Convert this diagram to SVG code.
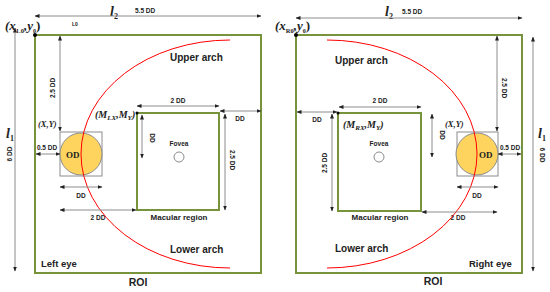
<svg xmlns="http://www.w3.org/2000/svg" width="550" height="292" viewBox="0 0 550 292">
<defs>
<marker id="ah" viewBox="0 0 10 10" refX="9" refY="5" markerWidth="5" markerHeight="5" orient="auto-start-reverse" markerUnits="userSpaceOnUse">
<path d="M0,1 L10,5 L0,9 z" fill="#222"/>
</marker>
<style>
.roi{fill:none;stroke:#77933C;stroke-width:2}
.mac{fill:none;stroke:#77933C;stroke-width:2}
.arc{fill:none;stroke:#FF0000;stroke-width:1}
.dim{fill:none;stroke:#8C8C8C;stroke-width:1;marker-start:url(#ah);marker-end:url(#ah)}
.box{fill:none;stroke:#8C8C8C;stroke-width:1}
.od{fill:#FFD45E;stroke:#8C8C8C;stroke-width:1}
.fov{fill:#fff;stroke:#8C8C8C;stroke-width:1}
.s{font-family:"Liberation Sans",Arial,sans-serif;font-weight:bold;fill:#222}
.d{font-size:6.5px}
.t{font-size:10px}
.serif{font-family:"Liberation Serif","Times New Roman",serif;font-weight:bold;fill:#222}
.it{font-style:italic}
</style>
</defs>
<rect width="550" height="292" fill="#fff"/>

<g id="left-eye">
<rect class="roi" x="35" y="35" width="226" height="238"/>
<rect class="mac" x="137" y="113" width="82" height="97"/>
<rect class="box" x="60" y="132" width="42" height="44"/>
<circle class="od" cx="81" cy="154" r="21"/>
<circle class="fov" cx="179" cy="157" r="5"/>
<circle cx="35" cy="35" r="2" fill="#000"/>
<circle cx="137" cy="113" r="1.5" fill="#000"/>
<text class="serif" x="66" y="158" font-size="9">OD</text>
<text class="s" x="179" y="146" font-size="6.5" text-anchor="middle">Fovea</text>
<text class="s" x="179" y="220" font-size="8" text-anchor="middle">Macular region</text>
<text class="s t" x="170" y="61">Upper arch</text>
<text class="s t" x="170" y="253">Lower arch</text>
<text class="s" x="41" y="267" font-size="9.5">Left eye</text>
<text class="s" x="138" y="286" font-size="10.5" text-anchor="middle">ROI</text>
<text class="serif" x="5" y="30" font-size="13"><tspan class="it">(x</tspan><tspan font-size="6.5" dy="3">1.0</tspan><tspan dy="-3" class="it">,y</tspan><tspan font-size="6" dy="3">0</tspan><tspan dy="-3">)</tspan></text>
<text class="s" x="72" y="26" font-size="5">L0</text>
<text class="serif it" x="38" y="127" font-size="8.5">(X,Y)</text>
<text class="serif it" x="95" y="118" font-size="10">(M<tspan font-size="7" dy="2">LX</tspan><tspan dy="-2">,M</tspan><tspan font-size="7" dy="2">Y</tspan><tspan dy="-2">)</tspan></text>
<text class="serif it" x="110" y="16" font-size="14">l<tspan font-size="8" dy="3" font-style="normal">2</tspan></text>
<text class="s d" x="135" y="13">5.5 DD</text>
<text class="serif it" x="6" y="138" font-size="14">l<tspan font-size="8" dy="3" font-style="normal">1</tspan></text>
<text class="s d" transform="translate(12,154) rotate(-90)" text-anchor="middle">6 DD</text>
<text class="s d" transform="translate(55,88) rotate(-90)" text-anchor="middle">2.5 DD</text>
<text class="s d" x="47" y="150" text-anchor="middle">0.5 DD</text>
<text class="s d" x="81" y="198" text-anchor="middle">DD</text>
<text class="s d" x="98" y="220" text-anchor="middle">2 DD</text>
<text class="s d" x="178" y="103" text-anchor="middle">2 DD</text>
<text class="s d" x="240" y="121" text-anchor="middle">DD</text>
<text class="s d" transform="translate(230,160) rotate(90)" text-anchor="middle">2.5 DD</text>
<text class="s d" transform="translate(150,138) rotate(90)" text-anchor="middle">DD</text>
</g>

<g id="right-eye">
<rect class="roi" x="296" y="35" width="226" height="238"/>
<rect class="mac" x="338" y="113" width="83" height="98"/>
<rect class="box" x="457" y="132" width="41" height="44"/>
<circle class="od" cx="477" cy="154" r="21"/>
<circle class="fov" cx="379" cy="157" r="5"/>
<circle cx="296" cy="35" r="2" fill="#000"/>
<circle cx="338" cy="113" r="1.5" fill="#000"/>
<text class="serif" x="479" y="158" font-size="9">OD</text>
<text class="s" x="379" y="146" font-size="6.5" text-anchor="middle">Fovea</text>
<text class="s" x="380" y="220" font-size="8" text-anchor="middle">Macular region</text>
<text class="s t" x="335" y="64">Upper arch</text>
<text class="s t" x="335" y="252">Lower arch</text>
<text class="s" x="469" y="267" font-size="9.5">Right eye</text>
<text class="s" x="433" y="285" font-size="10.5" text-anchor="middle">ROI</text>
<text class="serif" x="275" y="30" font-size="13"><tspan class="it">(x</tspan><tspan font-size="6.5" dy="3">R0</tspan><tspan dy="-3" class="it">,y</tspan><tspan font-size="6" dy="3">0</tspan><tspan dy="-3">)</tspan></text>
<text class="serif it" x="445" y="127" font-size="8.5">(X,Y)</text>
<text class="serif it" x="343" y="128" font-size="10">(M<tspan font-size="7" dy="2">RX</tspan><tspan dy="-2">,M</tspan><tspan font-size="7" dy="2">Y</tspan><tspan dy="-2">)</tspan></text>
<text class="serif it" x="385" y="16" font-size="14">l<tspan font-size="8" dy="3" font-style="normal">2</tspan></text>
<text class="s d" x="402" y="14">5.5 DD</text>
<text class="serif it" x="538" y="138" font-size="14">l<tspan font-size="8" dy="3" font-style="normal">1</tspan></text>
<text class="s d" transform="translate(540,155) rotate(90)" text-anchor="middle">6 DD</text>
<text class="s d" transform="translate(502,88) rotate(90)" text-anchor="middle">2.5 DD</text>
<text class="s d" x="510" y="150" text-anchor="middle">0.5 DD</text>
<text class="s d" x="477" y="198" text-anchor="middle">DD</text>
<text class="s d" x="458" y="220" text-anchor="middle">2 DD</text>
<text class="s d" x="380" y="103" text-anchor="middle">2 DD</text>
<text class="s d" x="317" y="122" text-anchor="middle">DD</text>
<text class="s d" transform="translate(327,163) rotate(-90)" text-anchor="middle">2.5 DD</text>
<text class="s d" transform="translate(440,135) rotate(90)" text-anchor="middle">DD</text>
</g>

<g id="connectors">
<path class="arc" d="M230,40 A149,114 0 0 0 230,268"/>
<path class="arc" d="M327,40 A150,114 0 0 1 327,268"/>
<line class="dim" x1="35" y1="16" x2="261" y2="16"/>
<line class="dim" x1="15" y1="28" x2="15" y2="271"/>
<line class="dim" x1="60" y1="36" x2="60" y2="131"/>
<line class="dim" x1="36" y1="154" x2="60" y2="154"/>
<line class="dim" x1="60" y1="187" x2="102" y2="187"/>
<line class="dim" x1="60" y1="210" x2="136" y2="210"/>
<line class="dim" x1="137" y1="106" x2="219" y2="106"/>
<line class="dim" x1="220" y1="111" x2="261" y2="111"/>
<line class="dim" x1="225" y1="114" x2="225" y2="210"/>
<line class="dim" x1="142" y1="115" x2="142" y2="158"/>
<line class="dim" x1="296" y1="18" x2="522" y2="18"/>
<line class="dim" x1="533" y1="37" x2="533" y2="271"/>
<line class="dim" x1="497" y1="36" x2="497" y2="131"/>
<line class="dim" x1="498" y1="154" x2="521" y2="154"/>
<line class="dim" x1="457" y1="187" x2="498" y2="187"/>
<line class="dim" x1="422" y1="212" x2="497" y2="212"/>
<line class="dim" x1="339" y1="107" x2="421" y2="107"/>
<line class="dim" x1="297" y1="112" x2="337" y2="112"/>
<line class="dim" x1="332" y1="114" x2="332" y2="211"/>
<line class="dim" x1="432" y1="114" x2="432" y2="157"/>
</g>
</svg>
